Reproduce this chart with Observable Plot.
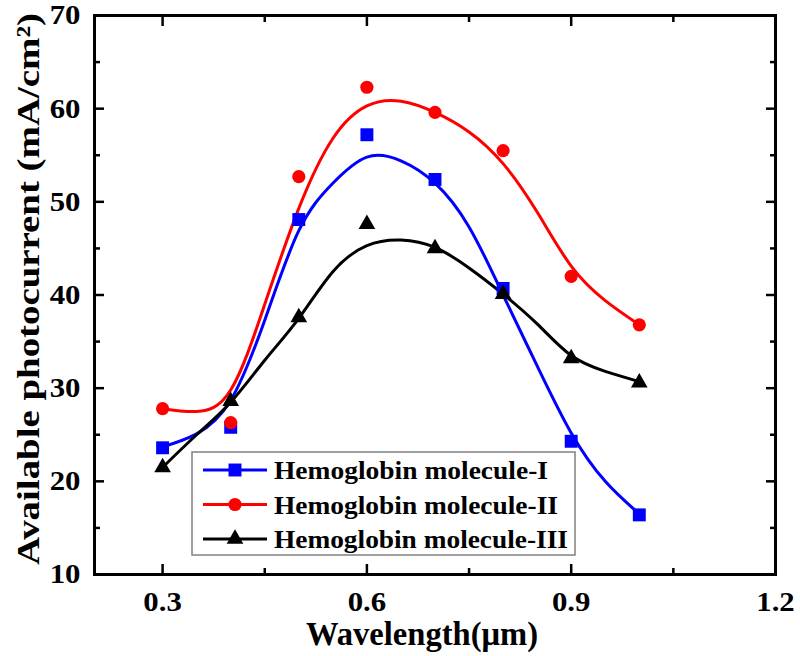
<!DOCTYPE html>
<html><head><meta charset="utf-8">
<script src="https://cdn.jsdelivr.net/npm/d3@7"></script>
<script src="https://cdn.jsdelivr.net/npm/@observablehq/plot@0.6"></script>
<style>body{margin:0;background:#fff} #chart{width:800px;height:656px}</style>
</head><body><div id="chart"></div>
<script>
// measured points
const wavelengths = [0.3, 0.4, 0.5, 0.6, 0.7, 0.8, 0.9, 1.0];
const mol1 = [23.6, 25.8, 48.1, 57.2, 52.4, 40.7, 24.3, 16.4];
const mol2 = [27.8, 26.3, 52.7, 62.3, 59.6, 55.5, 42.0, 36.8];
const mol3 = [21.5, 28.6, 37.6, 47.6, 45.0, 40.1, 33.2, 30.6];
// fitted curves
const fitX = [0.30, 0.35, 0.40, 0.45, 0.50, 0.55, 0.60, 0.65, 0.70, 0.75, 0.80, 0.85, 0.90, 0.95, 1.00];
const fit1 = [23.7, 25.1, 28.7, 37.3, 46.9, 52.0, 54.8, 54.4, 52.0, 47.3, 40.0, 32.4, 25.2, 20.0, 16.5];
const fit2 = [27.8, 27.5, 29.8, 39.0, 49.3, 56.8, 60.3, 60.8, 59.6, 57.5, 54.1, 48.9, 43.1, 39.4, 36.8];
const fit3 = [21.5, 25.0, 28.5, 33.0, 37.5, 42.5, 45.3, 45.9, 45.1, 42.9, 40.1, 36.9, 33.5, 31.8, 30.7];
const seriesNames = ["Hemoglobin molecule-I", "Hemoglobin molecule-II", "Hemoglobin molecule-III"];
const seriesColors = ["#0000ff", "#ff0000", "#000000"];
const seriesSymbols = ["square", "circle", "triangle"];
const seriesR = [7.3, 6.6, 6.2];
const xTicks = [0.3, 0.6, 0.9, 1.2];
const xMinor = [0.45, 0.75, 1.05];
const yTicks = [10, 20, 30, 40, 50, 60, 70];
const yMinor = [15, 25, 35, 45, 55, 65];
const xTitle = "Wavelength(\u03bcm)";
const yTitle = "Available photocurrent (mA/cm\u00b2)";

const pointSets = [mol1, mol2, mol3];
const fitSets = [fit1, fit2, fit3];
const font = "'Liberation Serif', 'Times New Roman', serif";

const marks = [];
fitSets.forEach((f, i) => {
  const rows = fitX.map((x, j) => ({x, y: f[j]}));
  marks.push(Plot.line(rows, {x: "x", y: "y", stroke: seriesColors[i], strokeWidth: 3, curve: "natural"}));
});
pointSets.forEach((p, i) => {
  const rows = wavelengths.map((x, j) => ({x, y: p[j]}));
  marks.push(Plot.dot(rows, {x: "x", y: "y", symbol: seriesSymbols[i], fill: seriesColors[i], stroke: "none", r: seriesR[i]}));
});
const tickStyle = {stroke: "#000", strokeWidth: 2.5};
marks.push(
  Plot.axisX(xTicks, {anchor: "bottom", tickSize: -10, tickPadding: 27, fontSize: 28, tickFormat: d3.format(".1f"), label: null, ...tickStyle}),
  Plot.axisX(xMinor, {anchor: "bottom", tickSize: -6, tickFormat: () => "", label: null, ...tickStyle}),
  Plot.axisX(xTicks, {anchor: "top", tickSize: -10, tickFormat: () => "", label: null, ...tickStyle}),
  Plot.axisX(xMinor, {anchor: "top", tickSize: -6, tickFormat: () => "", label: null, ...tickStyle}),
  Plot.axisY(yTicks, {anchor: "left", tickSize: -10, tickPadding: 24, fontSize: 28, label: null, ...tickStyle}),
  Plot.axisY(yMinor, {anchor: "left", tickSize: -6, tickFormat: () => "", label: null, ...tickStyle}),
  Plot.axisY(yTicks, {anchor: "right", tickSize: -10, tickFormat: () => "", label: null, ...tickStyle}),
  Plot.axisY(yMinor, {anchor: "right", tickSize: -6, tickFormat: () => "", label: null, ...tickStyle}),
  Plot.frame({stroke: "#000", strokeWidth: 3}),
  Plot.text([xTitle], {frameAnchor: "bottom", text: d => d, dy: 60, dx: -13, fontSize: 33, fontWeight: "bold", lineAnchor: "middle", textAnchor: "middle"}),
  Plot.text([yTitle], {frameAnchor: "left", text: d => d, dx: -66, dy: -6, rotate: -90, fontSize: 32, fontWeight: "bold", lineAnchor: "middle", textAnchor: "middle"})
);

const svg = Plot.plot({
  width: 800, height: 656,
  marginLeft: 94, marginRight: 25, marginTop: 15, marginBottom: 82,
  x: {domain: [0.2, 1.2]},
  y: {domain: [10, 70]},
  style: {fontFamily: font, fontWeight: "bold", color: "#000", background: "#fff"},
  marks
});

// legend
const legendWidths = [274, 284, 294];
const lg = d3.select(svg).append("g").attr("class", "legend").attr("text-anchor", "start");
lg.append("rect").attr("x", 192).attr("y", 452).attr("width", 383).attr("height", 103)
  .attr("fill", "#fff").attr("stroke", "#808080").attr("stroke-width", 1.5);
seriesNames.forEach((name, i) => {
  const cy = 470 + i * 34.5;
  lg.append("line").attr("x1", 203).attr("x2", 267).attr("y1", cy).attr("y2", cy)
    .attr("stroke", seriesColors[i]).attr("stroke-width", 3);
  const sym = {square: d3.symbolSquare, circle: d3.symbolCircle, triangle: d3.symbolTriangle}[seriesSymbols[i]];
  lg.append("path").attr("d", d3.symbol(sym, Math.PI * seriesR[i] * seriesR[i])())
    .attr("transform", `translate(235,${cy})`).attr("fill", seriesColors[i]);
  lg.append("text").attr("x", 274).attr("y", cy).attr("dy", "0.35em")
    .attr("text-anchor", "start")
    .attr("font-family", font).attr("font-weight", "bold").attr("font-size", 26)
    .attr("textLength", legendWidths[i]).attr("lengthAdjust", "spacingAndGlyphs")
    .attr("fill", "#000").text(name);
});

document.getElementById("chart").appendChild(svg);

// the reference glyphs are drawn slightly wider than Times; stretch to match
d3.select(svg).selectAll('g[aria-label="x-axis tick label"] text, g[aria-label="y-axis tick label"] text').each(function () {
  if (!this.textContent) return;
  const w = this.getComputedTextLength();
  this.setAttribute("textLength", (w * 1.1).toFixed(1));
  this.setAttribute("lengthAdjust", "spacingAndGlyphs");
});
d3.select(svg).selectAll('g[aria-label="text"] text').each(function () {
  if (this.textContent === yTitle) { this.setAttribute("textLength", 552); this.setAttribute("lengthAdjust", "spacingAndGlyphs"); }
  if (this.textContent === xTitle) { this.setAttribute("textLength", 232); this.setAttribute("lengthAdjust", "spacingAndGlyphs"); }
});
</script>
</body></html>
